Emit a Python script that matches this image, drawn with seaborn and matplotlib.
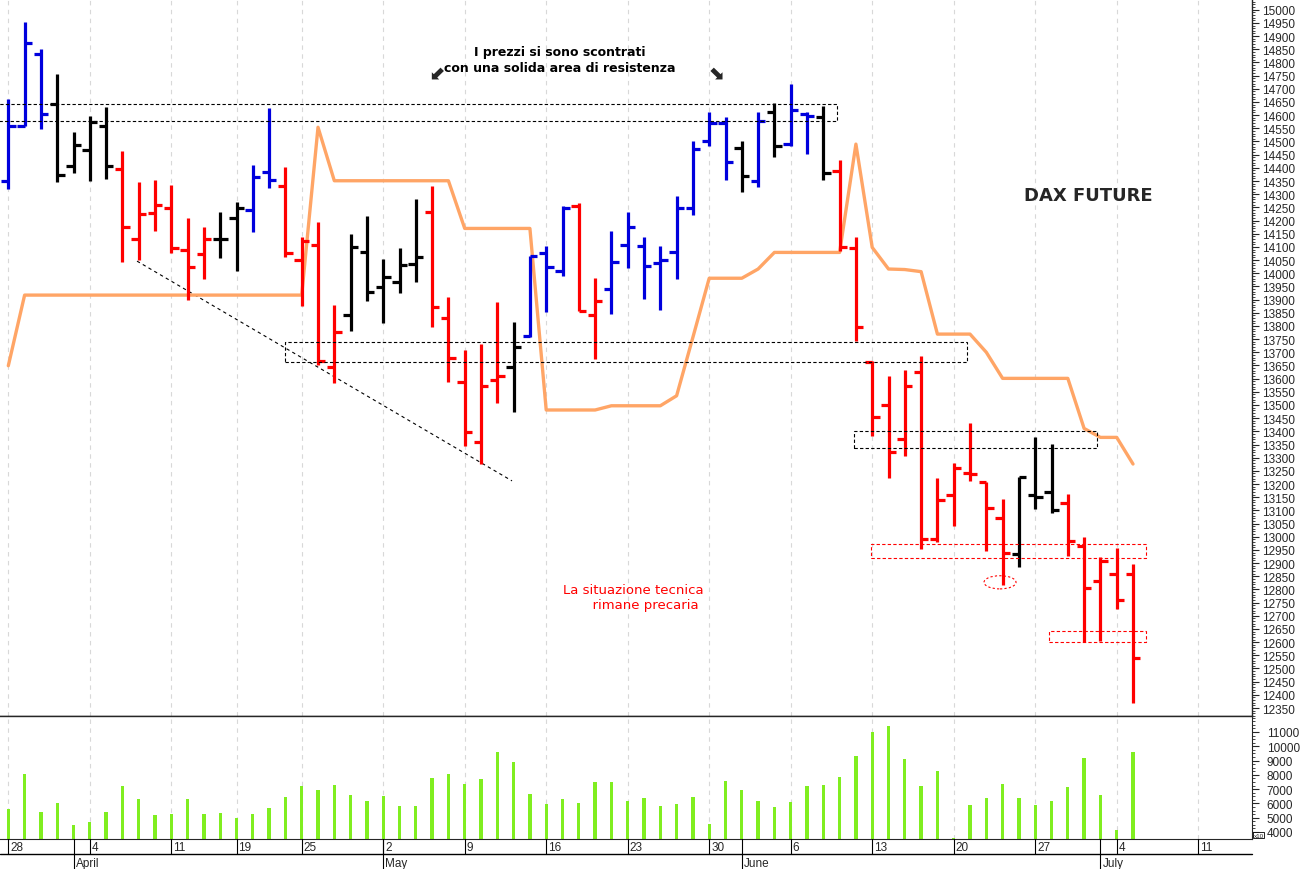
import numpy as np
import pandas as pd
import matplotlib
matplotlib.use("Agg")
import matplotlib.pyplot as plt
from matplotlib.ticker import MultipleLocator
from matplotlib.patches import Rectangle, Ellipse
import seaborn as sns

sns.set_style("white")
plt.rcParams['font.family'] = ['Liberation Sans', 'DejaVu Sans']

opens = [14351,14560,14832,14642,14408,14468,14560,14396,14130,14227,14246,14089,14073,14130,14208,14241,14383,14330,14050,14107,
         13645,13841,14079,13946,13968,14035,14234,13829,13586,13358,13596,13643,13760,14077,14010,14254,13843,13940,14107,14102,
         14037,14079,14246,14503,14570,14474,14351,14611,14490,14604,14592,14389,14095,13662,13500,13371,13624,12991,13158,13242,
         13206,13071,12934,13158,13169,13128,12964,12831,12859,12859]
highs = [14661,14955,14851,14756,14537,14595,14632,14463,14347,14354,14335,14208,14177,14231,14269,14411,14626,14402,14136,14193,
         13879,14149,14218,14054,14094,14282,14332,13911,13710,13731,13889,13816,14067,14102,14254,14265,13981,14159,14231,14139,
         14105,14294,14503,14611,14592,14503,14611,14646,14718,14611,14633,14430,14136,13668,13611,13633,13687,13222,13280,13430,
         13209,13143,13225,13377,13352,13162,12998,12922,12956,12897]
lows = [14320,14560,14547,14345,14380,14349,14358,14041,14051,14161,14077,13900,13978,14056,14010,14155,14322,14060,13874,13652,
        13583,13782,13896,13811,13925,13968,13795,13588,13346,13276,13506,13475,13757,13854,13988,13858,13674,13845,14018,13902,
        13860,13978,14221,14484,14354,14310,14329,14442,14484,14453,14355,14086,13742,13381,13223,13308,12953,12981,13039,13213,
        12947,12817,12884,13105,13090,12926,12599,12606,12726,12369]
closes = [14560,14874,14604,14374,14487,14573,14408,14174,14225,14259,14094,14025,14130,14130,14246,14364,14354,14075,14124,13668,
          13776,14098,13930,13987,14031,14060,13871,13678,13396,13571,13611,13719,14067,14022,14246,13858,13896,14041,14174,14026,
          14050,14246,14471,14570,14421,14370,14579,14484,14620,14598,14379,14098,13795,13453,13320,13573,12991,13141,13260,13238,
          13108,12937,13225,13152,13103,12982,12804,12907,12761,12538]
bar_colors = list("bbb" "kkkk" "rrrrrr" "kk" "bb" "rrrr" "kkkkk" "rrrrr" "k" "bbb" "rr" "bbbbbbbb"
                  "k" "b" "k" "bb" "k" "rrrrrrrrrrr" "kkk" "rrrrr")
trend = [13649,13917,13917,13917,13917,13917,13917,13917,13917,13917,13917,13917,13917,13917,13917,13917,13917,13917,13917,14554,
         14351,14351,14351,14351,14351,14351,14351,14351,14170,14170,14170,14170,14170,13481,13481,13481,13481,13497,13497,13497,
         13497,13535,13757,13981,13981,13981,14016,14079,14079,14079,14079,14079,14490,14098,14016,14014,14006,13769,13769,13769,
         13700,13601,13601,13601,13601,13601,13411,13377,13377,13276]
volume = [5610,8060,5380,6050,4490,4680,5420,7200,6330,5170,5240,6330,5240,5350,4980,5240,5660,6450,7240,6940,
          7270,6590,6190,6500,5840,5800,7760,8080,7340,7730,9580,8880,6660,5940,6290,6050,7480,7480,6150,6360,
          5840,5940,6450,4560,7550,6940,6170,5770,6120,7200,7290,7850,9300,10980,11400,9110,7200,8290,3600,5870,
          6360,7340,6380,5910,6150,7130,9160,6590,4160,9580]
day_ticks = [0,5,10,14,18,23,28,33,38,43,48,53,58,63,68,73]
day_labels = ["28","4","11","19","25","2","9","16","23","30","6","13","20","27","4","11"]
month_ticks = [4,23,45,67]
month_labels = ["April","May","June","July"]

cmap = {'b': '#0000dd', 'k': '#000000', 'r': '#ff0000'}
idx = np.arange(len(opens))
df = pd.DataFrame({"i": idx, "o": opens, "h": highs, "l": lows, "c": closes,
                   "col": [cmap[c] for c in bar_colors], "trend": trend, "vol": volume})

W, H = 1301, 870
fig = plt.figure(figsize=(13.01, 8.70), dpi=100)
ax = fig.add_axes([0, 153/H, 1252/W, 717/H])
axv = fig.add_axes([0, 30/H, 1252/W, 123/H])
XL = (-0.51, 76.3)

for x in day_ticks:
    ax.axvline(x, color='#d8d8d8', lw=0.8, ls=(0, (4, 4)), zorder=0)
    axv.axvline(x, color='#d8d8d8', lw=0.8, ls=(0, (4, 4)), zorder=0)
sns.lineplot(data=df, x="i", y="trend", ax=ax, color='#ffa566', lw=2.4, zorder=2)
ax.vlines(df.i, df.l, df.h, colors=df.col, lw=2.3, zorder=3)
ax.hlines(df.o, df.i - 0.45, df.i, colors=df.col, lw=2.3, zorder=3)
ax.hlines(df.c, df.i, df.i + 0.45, colors=df.col, lw=2.3, zorder=3)

ax.set_xlim(*XL)
ax.set_ylim(12319.7, 15040.7)
ax.set_xlabel(""); ax.set_ylabel("")
ax.set_xticks([])
ax.yaxis.tick_right()
ax.set_yticks(np.arange(12350, 15001, 50))
ax.yaxis.set_minor_locator(MultipleLocator(10))
ax.tick_params(axis='y', which='major', length=5, labelsize=8.5, pad=2, direction='out', right=True)
ax.tick_params(axis='y', which='minor', length=2.5, right=True)
for s in ['left', 'top']:
    ax.spines[s].set_visible(False)
ax.spines['right'].set_linewidth(1); ax.spines['bottom'].set_linewidth(1)

def px2x(px):
    return (px - 8.3) / 16.3
ax.add_patch(Rectangle((px2x(-5), 14577), px2x(837) - px2x(-5), 65, fill=False, ls=(0, (3, 2)), lw=0.8, ec='black', zorder=4))
ax.add_patch(Rectangle((px2x(285), 13663), px2x(967) - px2x(285), 76, fill=False, ls=(0, (3, 2)), lw=0.8, ec='black', zorder=4))
ax.add_patch(Rectangle((px2x(854), 13337), px2x(1097) - px2x(854), 64, fill=False, ls=(0, (3, 2)), lw=0.8, ec='black', zorder=4))
ax.add_patch(Rectangle((px2x(871), 12918), px2x(1146) - px2x(871), 53, fill=False, ls=(0, (3, 2)), lw=0.8, ec='red', zorder=4))
ax.add_patch(Rectangle((px2x(1049), 12600), px2x(1146) - px2x(1049), 42, fill=False, ls=(0, (3, 2)), lw=0.8, ec='red', zorder=4))
ax.add_patch(Ellipse((px2x(1000), 12827), 32/16.3, 50, fill=False, ls=(0, (2, 2)), lw=0.8, ec='red', zorder=4))
ax.plot([px2x(137), px2x(512)], [14046, 13212], color='black', lw=0.8, ls=(0, (3, 3)), zorder=1)

ax.text(px2x(560), 14810, "I prezzi si sono scontrati\ncon una solida area di resistenza", ha='center', va='center',
        fontsize=9, fontweight='bold', family='DejaVu Sans', linespacing=1.3, color='black')
ax.text(px2x(437), 14762, "\u2B0B", ha='center', va='center', fontsize=14, fontweight='bold', family='DejaVu Sans')
ax.text(px2x(716), 14765, "\u2B0A", ha='center', va='center', fontsize=14, fontweight='bold', family='DejaVu Sans')
ax.text(px2x(1088), 14295, "DAX FUTURE", ha='center', va='center', fontsize=13, fontweight='bold', family='DejaVu Sans')
ax.text(px2x(633), 12770, "La situazione tecnica\n      rimane precaria", ha='center', va='center',
        fontsize=9.5, color='red', family='DejaVu Sans', linespacing=1.2)

sns.barplot(data=df, x="i", y="vol", ax=axv, native_scale=True, color='#80ee20', width=0.2,
            saturation=1, edgecolor='none')
axv.set_xlim(*XL)
axv.set_ylim(3510, 12120)
axv.set_xlabel(""); axv.set_ylabel("")
axv.set_xticks([])
axv.yaxis.tick_right()
axv.set_yticks(np.arange(4000, 11001, 1000))
axv.set_yticklabels([str(v) for v in range(4000, 11001, 1000)])
axv.yaxis.set_minor_locator(MultipleLocator(250))
axv.tick_params(axis='y', which='major', length=5, labelsize=8.5, pad=5.5, right=True)
axv.tick_params(axis='y', which='minor', length=2.5, right=True)
axv.spines['left'].set_visible(False)
axv.spines['top'].set_linewidth(1)
axv.text(1.0012, 0.012, "x10", transform=axv.transAxes, fontsize=4.5, va='bottom', ha='left',
         bbox=dict(boxstyle='square,pad=0.1', fc='white', ec='black', lw=0.6))

def fx(i):
    return (8.3 + 16.3 * i) / W
def fy(py):
    return 1 - py / H
fig.add_artist(plt.Line2D([0, 1252/W], [fy(855), fy(855)], color='black', lw=1))
for i, lab in zip(day_ticks, day_labels):
    fig.add_artist(plt.Line2D([fx(i), fx(i)], [fy(840), fy(855)], color='black', lw=0.8))
    fig.text(fx(i) + 2/W, fy(848), lab, fontsize=8.5, va='center', ha='left')
for i, lab in zip(month_ticks, month_labels):
    fig.add_artist(plt.Line2D([fx(i), fx(i)], [fy(840), fy(870)], color='black', lw=0.8))
    fig.text(fx(i) + 2/W, fy(864), lab, fontsize=8.5, va='center', ha='left')

fig.savefig("out.png", dpi=100)
